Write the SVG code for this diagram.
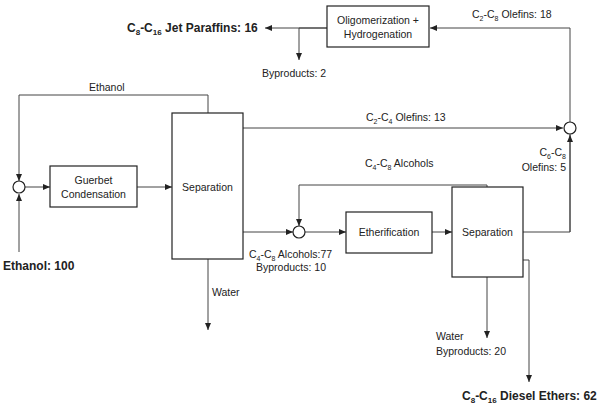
<svg xmlns="http://www.w3.org/2000/svg" width="600" height="405" viewBox="0 0 600 405">
<style>
text{font-family:"Liberation Sans",Arial,sans-serif;font-size:10.5px;fill:#222}
.b{font-weight:bold;font-size:12px}
.n rect,.n circle{fill:#fff;stroke:#222;stroke-width:1.2}
.c path{fill:none;stroke:#444;stroke-width:1}
.m{text-anchor:middle}
</style>
<defs><marker id="a" markerWidth="8" markerHeight="8" refX="7" refY="4" orient="auto" markerUnits="userSpaceOnUse"><path d="M0,1 L7,4 L0,7z" fill="#222"/></marker></defs>
<rect width="600" height="405" fill="#fff"/>
<g class="c">
<path d="M570,232 V28 H430" marker-end="url(#a)"/>
<path d="M327,28 H265" marker-end="url(#a)"/>
<path d="M327,28 H299 V60" marker-end="url(#a)"/>
<path d="M243,128 H563" marker-end="url(#a)"/>
<path d="M208,113 V95 H19 V181" marker-end="url(#a)"/>
<path d="M19,252 V194" marker-end="url(#a)"/>
<path d="M25,187 H50" marker-end="url(#a)"/>
<path d="M137,187 H172" marker-end="url(#a)"/>
<path d="M243,232 H293" marker-end="url(#a)"/>
<path d="M487,187 V185 H299 V226" marker-end="url(#a)"/>
<path d="M305,232 H346" marker-end="url(#a)"/>
<path d="M432,232 H452" marker-end="url(#a)"/>
<path d="M523,232 H570 V135" marker-end="url(#a)"/>
<path d="M208,259 V330" marker-end="url(#a)"/>
<path d="M487,277 V338" marker-end="url(#a)"/>
<path d="M523,260 H529 V382" marker-end="url(#a)"/>
</g>
<g id="oligo" class="n"><rect x="327" y="6" width="102" height="41"/><text x="378" y="24" class="m">Oligomerization +</text><text x="378" y="38" class="m">Hydrogenation</text></g>
<g id="mix1" class="n"><circle cx="19" cy="187" r="6"/></g>
<g id="guerbet" class="n"><rect x="50" y="166" width="87" height="41"/><text x="93.5" y="184" class="m">Guerbet</text><text x="93.5" y="198" class="m">Condensation</text></g>
<g id="sep1" class="n"><rect x="172" y="113" width="71" height="146"/><text x="207.5" y="191" class="m">Separation</text></g>
<g id="mix2" class="n"><circle cx="299" cy="232" r="6"/></g>
<g id="ether" class="n"><rect x="346" y="212" width="86" height="41"/><text x="389" y="236" class="m">Etherification</text></g>
<g id="sep2" class="n"><rect x="452" y="187" width="71" height="90"/><text x="487.5" y="236" class="m">Separation</text></g>
<g id="mix3" class="n"><circle cx="570" cy="128" r="6"/></g>
<g id="labels">
<text x="127" y="32" class="b">C<tspan font-size="8" dy="3">8</tspan><tspan dy="-3">-C</tspan><tspan font-size="8" dy="3">16</tspan><tspan dy="-3"> Jet Paraffins: 16</tspan></text>
<text x="472" y="18">C<tspan font-size="7" dy="3">2</tspan><tspan dy="-3">-C</tspan><tspan font-size="7" dy="3">8</tspan><tspan dy="-3"> Olefins: 18</tspan></text>
<text x="262" y="77">Byproducts: 2</text>
<text x="89" y="91">Ethanol</text>
<text x="366" y="121">C<tspan font-size="7" dy="3">2</tspan><tspan dy="-3">-C</tspan><tspan font-size="7" dy="3">4</tspan><tspan dy="-3"> Olefins: 13</tspan></text>
<text x="365" y="167">C<tspan font-size="7" dy="3">4</tspan><tspan dy="-3">-C</tspan><tspan font-size="7" dy="3">8</tspan><tspan dy="-3"> Alcohols</tspan></text>
<text x="566" y="156" text-anchor="end">C<tspan font-size="7" dy="3">6</tspan><tspan dy="-3">-C</tspan><tspan font-size="7" dy="3">8</tspan></text>
<text x="566" y="171" text-anchor="end">Olefins: 5</text>
<text x="249" y="258">C<tspan font-size="7" dy="3">4</tspan><tspan dy="-3">-C</tspan><tspan font-size="7" dy="3">8</tspan><tspan dy="-3"> Alcohols:77</tspan></text>
<text x="256" y="271">Byproducts: 10</text>
<text x="212" y="296">Water</text>
<text x="3" y="270" class="b">Ethanol: 100</text>
<text x="436" y="340">Water</text>
<text x="436" y="355">Byproducts: 20</text>
<text x="462" y="400" class="b">C<tspan font-size="8" dy="3">8</tspan><tspan dy="-3">-C</tspan><tspan font-size="8" dy="3">16</tspan><tspan dy="-3"> Diesel Ethers: 62</tspan></text>
</g>
</svg>
